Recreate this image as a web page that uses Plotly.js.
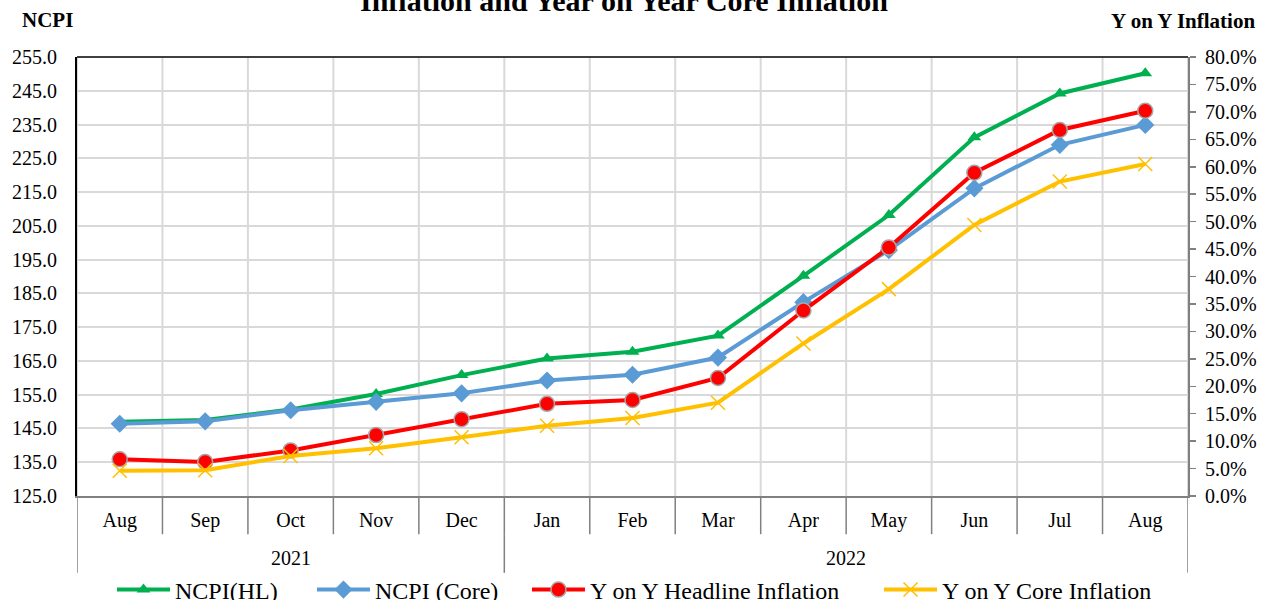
<!DOCTYPE html>
<html>
<head>
<meta charset="utf-8">
<script src="https://cdn.plot.ly/plotly-3.0.1.min.js"></script>
<style>html,body{margin:0;padding:0;background:#fff;}#chart{width:1264px;height:600px;}</style>
</head>
<body>
<div id="chart"></div>
<script>
const months = ['Aug','Sep','Oct','Nov','Dec','Jan','Feb','Mar','Apr','May','Jun','Jul','Aug'];
const years = ['2021','2021','2021','2021','2021','2022','2022','2022','2022','2022','2022','2022','2022'];
const yearLabels = ['2021','2022'];
const ncpiHL   = [147.0,147.5,150.6,155.2,160.8,165.7,167.7,172.5,190.2,208.2,231.2,244.2,250.2];
const ncpiCore = [146.4,147.1,150.4,152.9,155.4,159.2,160.9,166.0,182.4,197.8,216.1,229.0,234.9];
const yoyHL    = [6.7,6.2,8.3,11.1,14.0,16.8,17.5,21.5,33.8,45.3,58.9,66.7,70.2];
const yoyCore  = [4.6,4.7,7.3,8.7,10.7,12.8,14.2,17.0,27.8,37.7,49.4,57.3,60.5];

const cats = months.map((m,i)=>m+' '+years[i]);
const FONT = 'Liberation Serif, Times New Roman, serif';

const traces = [
  {x:cats, y:ncpiHL, name:'NCPI(HL)', type:'scatter', mode:'lines+markers', yaxis:'y', legend:'legend',
   line:{color:'#00B050', width:4}, marker:{symbol:'triangle-up', size:12, color:'#00B050'}},
  {x:cats, y:ncpiCore, name:'NCPI (Core)', type:'scatter', mode:'lines+markers', yaxis:'y', legend:'legend2',
   line:{color:'#5B9BD5', width:4}, marker:{symbol:'diamond', size:14, color:'#5B9BD5'}},
  {x:cats, y:yoyHL, name:'Y on Y Headline Inflation', type:'scatter', mode:'lines+markers', yaxis:'y2', legend:'legend3',
   line:{color:'#FF0000', width:4}, marker:{symbol:'circle', size:15, color:'#FF0000', line:{color:'#A6A6A6', width:1.5}}},
  {x:cats, y:yoyCore, name:'Y on Y Core Inflation', type:'scatter', mode:'lines+markers', yaxis:'y2', legend:'legend4',
   line:{color:'#FFC000', width:4}, marker:{symbol:'x-thin', size:14, color:'#FFC000', line:{color:'#FFC000', width:1.5}}}
];

const shapes = [];
for (let i=0;i<=months.length;i++){
  shapes.push({type:'line', xref:'x', yref:'paper', x0:i-0.5, x1:i-0.5, y0:0, y1:1,
    line:{color:'#D9D9D9', width:2}, layer:'below'});
  shapes.push({type:'line', xref:'x', yref:'paper', x0:i-0.5, x1:i-0.5, y0:0, y1:-0.087,
    line:{color:'#808080', width:1.5}, layer:'above'});
}
const yearStarts = [];
years.forEach((y,i)=>{ if(i===0 || years[i-1]!==y) yearStarts.push(i); });
yearStarts.concat([months.length]).forEach(i=>{
  shapes.push({type:'line', xref:'x', yref:'paper', x0:i-0.5, x1:i-0.5, y0:-0.087, y1:-0.175,
    line:{color:'#808080', width:1.5}, layer:'above'});
});
shapes.push({type:'line', xref:'paper', yref:'paper', x0:0, x1:1, y0:1, y1:1, line:{color:'#404040', width:2}});

const annotations = [];
yearLabels.forEach(yl=>{
  const idx = years.map((y,i)=>y===yl?i:-1).filter(i=>i>=0);
  const mid = (idx[0]+idx[idx.length-1])/2;
  annotations.push({text:yl, xref:'x', yref:'paper', x:mid, y:-0.141, showarrow:false,
    xanchor:'center', yanchor:'middle', font:{family:FONT, size:20, color:'#000'}});
});
annotations.push({text:'<b>Inflation and Year on Year Core Inflation</b>', xref:'paper', yref:'paper',
  x:0.492, y:1.128, xanchor:'center', yanchor:'middle', showarrow:false, font:{family:FONT, size:30, color:'#000'}});
annotations.push({text:'<b>NCPI</b>', xref:'paper', yref:'paper', x:-0.0513, y:1.084, xanchor:'left', yanchor:'middle',
  showarrow:false, font:{family:FONT, size:21, color:'#000'}});
annotations.push({text:'<b>Y on Y Inflation</b>', xref:'paper', yref:'paper', x:1.062, y:1.082, xanchor:'right', yanchor:'middle',
  showarrow:false, font:{family:FONT, size:21, color:'#000'}});

function leg(x){
  return {orientation:'h', x:x, xanchor:'left', y:-0.2141, yanchor:'middle',
    font:{family:FONT, size:24, color:'#000'}, itemwidth:53, bgcolor:'rgba(0,0,0,0)', borderwidth:0};
}

const layout = {
  width:1264, height:600,
  margin:{l:77, r:76, t:57, b:104, autoexpand:false},
  paper_bgcolor:'#fff', plot_bgcolor:'#fff',
  showlegend:true,
  legend:leg(0.0315), legend2:leg(0.2115), legend3:leg(0.405), legend4:leg(0.7219),
  xaxis:{type:'category', tickvals:cats, ticktext:months, range:[-0.5, months.length-0.5],
    showgrid:false, zeroline:false, showline:true, linecolor:'#808080', linewidth:2,
    ticks:'outside', ticklen:5, tickcolor:'rgba(0,0,0,0)',
    tickfont:{family:FONT, size:20, color:'#000'}, fixedrange:true},
  yaxis:{range:[125,255], dtick:10, tick0:125, tickformat:'.1f', showgrid:true, gridcolor:'#D9D9D9', gridwidth:2,
    zeroline:false, showline:true, linecolor:'#000', linewidth:2,
    ticks:'outside', ticklen:14, tickcolor:'rgba(0,0,0,0)',
    tickfont:{family:FONT, size:20, color:'#000'}, fixedrange:true},
  yaxis2:{overlaying:'y', side:'right', range:[0,80], dtick:5, tick0:0, tickformat:'.1f', ticksuffix:'%',
    showgrid:false, zeroline:false, showline:true, linecolor:'#808080', linewidth:2,
    ticks:'outside', ticklen:6, tickcolor:'#808080', tickwidth:1.5, ticklabelstandoff:5,
    tickfont:{family:FONT, size:20, color:'#000'}, fixedrange:true},
  shapes:shapes, annotations:annotations,
  hovermode:false
};
Plotly.newPlot('chart', traces, layout, {displayModeBar:false, staticPlot:true});
</script>
</body>
</html>
